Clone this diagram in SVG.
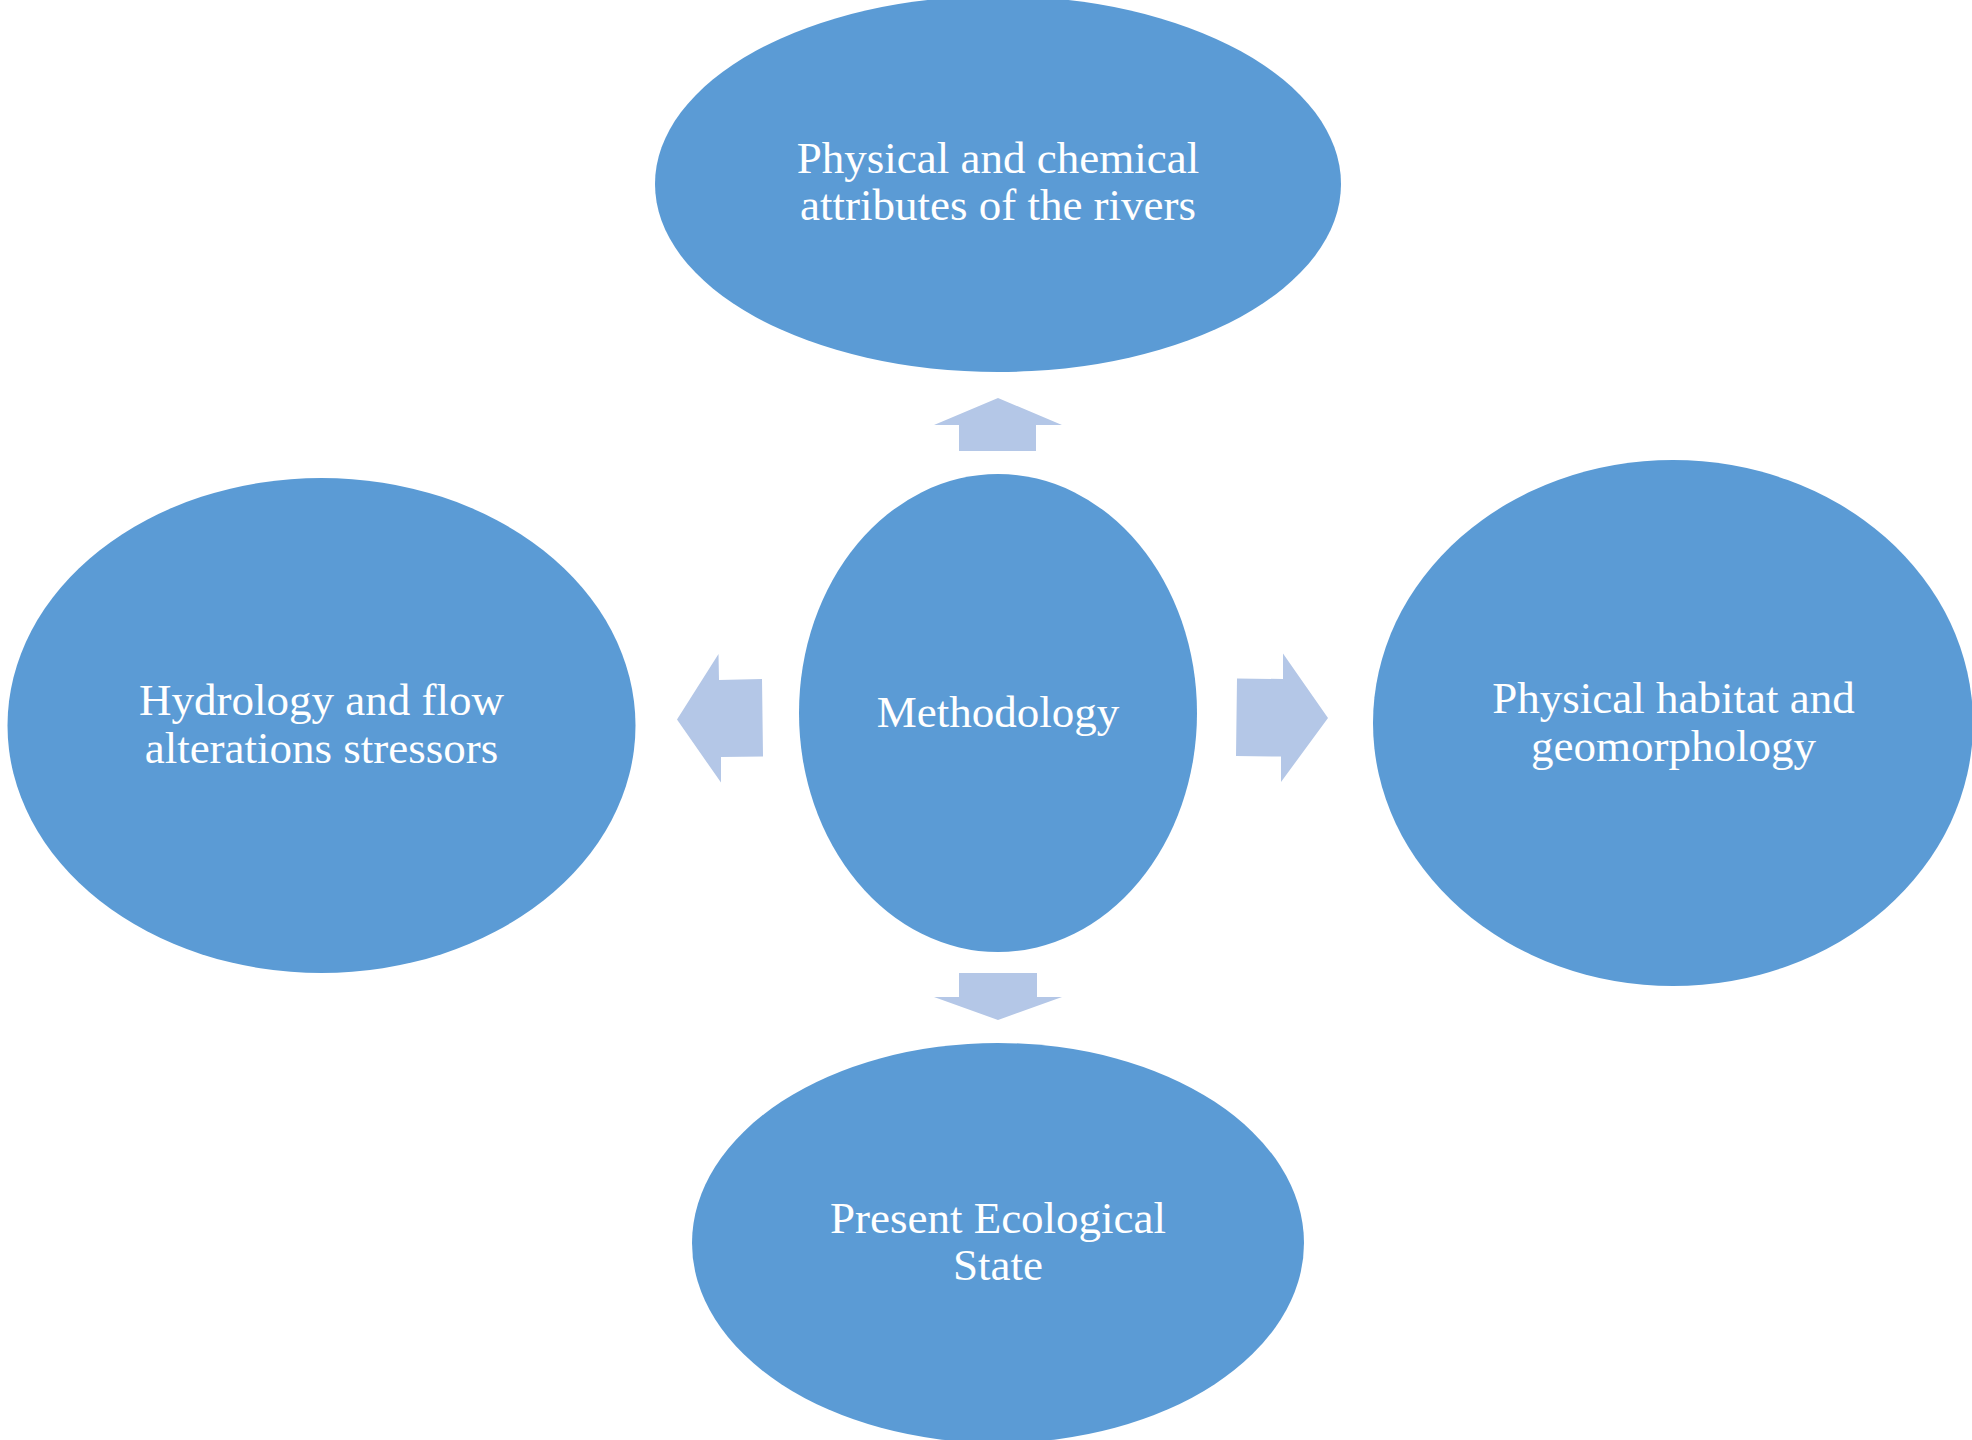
<svg xmlns="http://www.w3.org/2000/svg" width="1972" height="1440" viewBox="0 0 1972 1440">
<style>
.node{fill:#5B9BD5;}
.lbl{fill:#FFFFFF;font-family:"Liberation Serif","Times New Roman",serif;font-size:45px;text-anchor:middle;}
.arr{fill:#B4C7E7;}
</style>
<rect width="1972" height="1440" fill="#FFFFFF"/>
<g id="connectors">
<polygon class="arr" points="998,398 1062,425 1036,425 1036,451 959,451 959,425 934,425"/>
<polygon class="arr" points="998,1020 1062,997 1037,997 1037,973 959,973 959,997 934,997"/>
<polygon class="arr" points="677,719.5 718.5,654 719,680 762,679 763,756.6 721,757 721,782.6"/>
<polygon class="arr" points="1328,718 1283,653.6 1283,679 1237,678.5 1236,756 1281,756.6 1281,782"/>
</g>
<g id="node-top">
<ellipse class="node" cx="998" cy="184" rx="343" ry="188"/>
<text class="lbl" x="998" y="173">Physical and chemical</text>
<text class="lbl" x="998" y="220">attributes of the rivers</text>
</g>
<g id="node-center">
<ellipse class="node" cx="998" cy="713" rx="199" ry="239"/>
<text class="lbl" x="998" y="727">Methodology</text>
</g>
<g id="node-left">
<ellipse class="node" cx="321.5" cy="725.5" rx="314" ry="247.5"/>
<text class="lbl" x="321.5" y="715">Hydrology and flow</text>
<text class="lbl" x="321.5" y="763">alterations stressors</text>
</g>
<g id="node-right">
<ellipse class="node" cx="1673" cy="723" rx="300" ry="263"/>
<text class="lbl" x="1673.5" y="713">Physical habitat and</text>
<text class="lbl" x="1673.5" y="761">geomorphology</text>
</g>
<g id="node-bottom">
<ellipse class="node" cx="998" cy="1243" rx="306" ry="200"/>
<text class="lbl" x="998" y="1233">Present Ecological</text>
<text class="lbl" x="998" y="1280">State</text>
</g>
</svg>
